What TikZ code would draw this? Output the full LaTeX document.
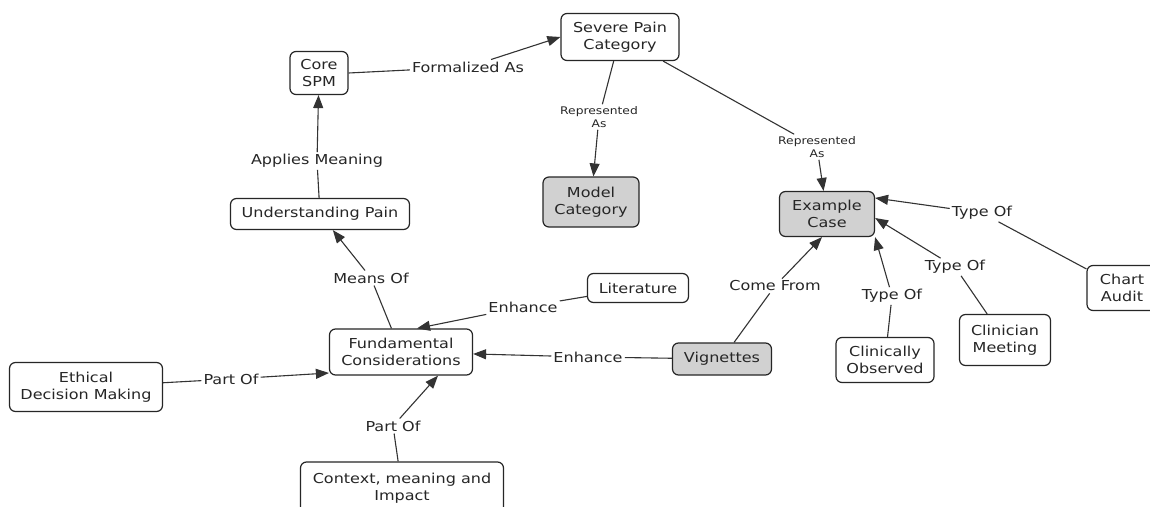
\documentclass[tikz,border=0pt]{standalone}
\usepackage{fontspec}
\setmainfont{DejaVu Sans}[FakeStretch=1.17]
\usetikzlibrary{arrows.meta}
\begin{document}
\begin{tikzpicture}[x=1pt,y=-1pt,
  concept/.style={draw=black!85, line width=1.2pt, rounded corners=6pt, fill=white, align=center,
    font=\fontsize{13.7}{17}\selectfont, text=black!85, inner sep=0pt},
  shaded/.style={concept, fill=black!18},
  lbl/.style={font=\fontsize{13.7}{17}\selectfont, text=black!85, inner sep=2pt, align=center},
  small/.style={lbl, font=\fontsize{10.5}{13}\selectfont},
  link/.style={draw=black!80, line width=1.1pt},
  arr/.style={link, -{Triangle[length=13pt,width=10pt]}}]
\useasboundingbox (0,0) rectangle (1150,506);
\fill[white] (0,0) rectangle (1150,506);

% concepts
\node[concept, minimum width=58pt, minimum height=43pt] (core) at (319,73) {Core\\SPM};
\node[concept, minimum width=118pt, minimum height=47pt] (severe) at (620,37) {Severe Pain\\Category};
\node[concept, minimum width=179pt, minimum height=31pt] (und) at (320,214) {Understanding Pain};
\node[shaded, minimum width=96pt, minimum height=50pt] (model) at (591,202) {Model\\Category};
\node[shaded, minimum width=95pt, minimum height=45pt] (example) at (827,214) {Example\\Case};
\node[concept, minimum width=101pt, minimum height=29pt] (lit) at (638,288) {Literature};
\node[concept, minimum width=143pt, minimum height=46pt] (fc) at (401,352) {Fundamental\\Considerations};
\node[shaded, minimum width=99pt, minimum height=32pt] (vig) at (722,359) {Vignettes};
\node[concept, minimum width=153pt, minimum height=49pt] (eth) at (86,387) {Ethical\\Decision Making};
\node[concept, minimum width=203pt, minimum height=52pt] (ctx) at (402,488) {Context, meaning and\\Impact};
\node[concept, minimum width=98pt, minimum height=45pt] (clinobs) at (885,360) {Clinically\\Observed};
\node[concept, minimum width=91pt, minimum height=51pt] (clinmeet) at (1005,340) {Clinician\\Meeting};
\node[concept, minimum width=70pt, minimum height=45pt] (chart) at (1122,288) {Chart\\Audit};

% link labels
\node[lbl] (l1) at (468,67) {Formalized As};
\node[small] (l2) at (599,117) {Represented\\As};
\node[small] (l3) at (817,147) {Represented\\As};
\node[lbl] (l4) at (317,161) {Applies Meaning};
\node[lbl] (l5) at (371,278) {Means Of};
\node[lbl] (l6) at (523,307) {Enhance};
\node[lbl] (l7) at (588,357) {Enhance};
\node[lbl] (l8) at (231,379) {Part Of};
\node[lbl] (l9) at (393,426) {Part Of};
\node[lbl] (l10) at (775,286) {Come From};
\node[lbl] (l11) at (892,296) {Type Of};
\node[lbl] (l12) at (955,267) {Type Of};
\node[lbl] (l13) at (982,213) {Type Of};

% connectors
\draw[link] (core.east) -- (l1);
\draw[arr] (l1) -- (severe.west);
\draw[link] (severe) -- (l2);
\draw[arr] (l2) -- (model);
\draw[link] (severe) -- (l3);
\draw[arr] (l3) -- (example);
\draw[link] (und) -- (l4);
\draw[arr] (l4) -- (core);
\draw[link] (fc) -- (l5);
\draw[arr] (l5) -- (und);
\draw[link] (lit) -- (l6);
\draw[arr] (l6) -- ([xshift=16pt]fc.north);
\draw[link] (vig) -- (l7);
\draw[arr] (l7) -- (fc);
\draw[link] (eth) -- (l8);
\draw[arr] (l8) -- ([yshift=-21pt]fc.west);
\draw[link] (ctx) -- (l9);
\draw[arr] (l9) -- ([xshift=37pt]fc.south);
\draw[link] (vig) -- (l10);
\draw[arr] (l10) -- ([xshift=-5pt]example.south);
\draw[link] (clinobs) -- (l11);
\draw[arr] (l11) -- (example.south east);
\draw[link] (clinmeet) -- (l12);
\draw[arr] (l12) -- ([yshift=-4pt]example.east);
\draw[link] (chart) -- (l13);
\draw[arr] (l13) -- ([yshift=16pt]example.east);
\end{tikzpicture}
\end{document}
